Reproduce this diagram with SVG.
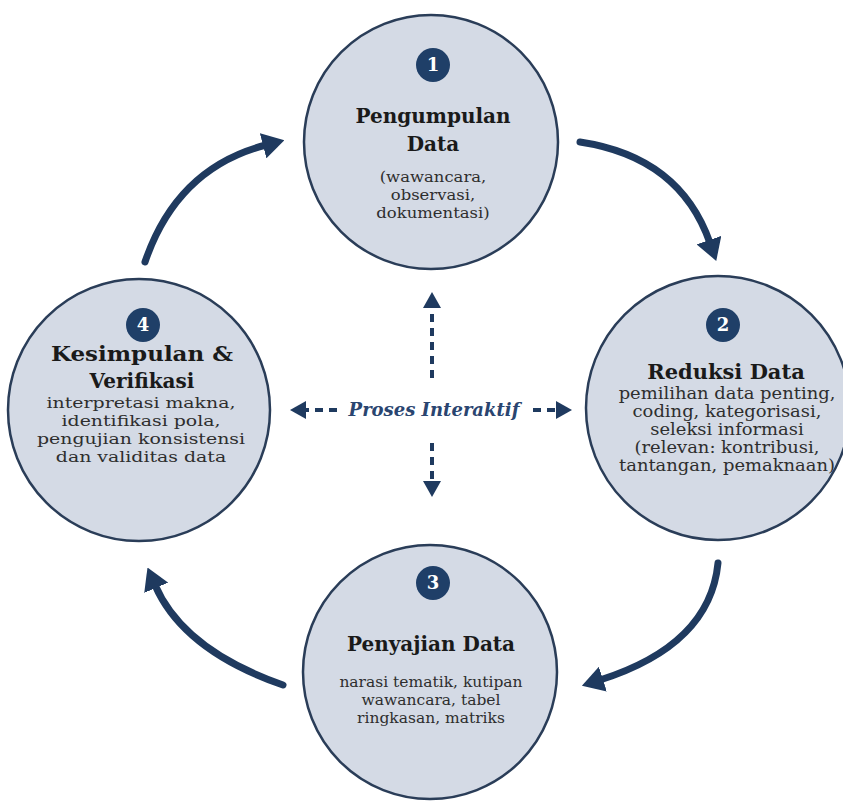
<svg xmlns="http://www.w3.org/2000/svg" width="843" height="808" viewBox="0 0 843 808">
<style>
.node{fill:#d4dae5;stroke:#2a3d58;stroke-width:2.5}
.badge{fill:#1f3f68}
.num{fill:#fff;font-family:"DejaVu Serif",serif;font-weight:bold;font-size:18px;text-anchor:middle}
.title{fill:#1a1a1a;font-family:"DejaVu Serif",serif;font-weight:bold;font-size:20px;text-anchor:middle}
.sub{fill:#2e2e2e;font-family:"DejaVu Serif",serif;font-size:15.5px;text-anchor:middle}
.big{font-size:21px}
.sub2{font-size:16.3px}
.flow{fill:none;stroke:#1f3a5f;stroke-width:7;stroke-linecap:round}
.dash{fill:none;stroke:#1f3a5f;stroke-width:4;stroke-dasharray:8 6}
.label{fill:#2a4570;font-family:"DejaVu Serif",serif;font-weight:bold;font-style:italic;font-size:18px;text-anchor:middle}
</style>
<defs>
<marker id="ah" markerUnits="userSpaceOnUse" viewBox="0 0 22 26" markerWidth="22" markerHeight="26" refX="3" refY="13" orient="auto">
<path d="M0,0 L22,13 L0,26 z" fill="#1f3a5f"/>
</marker>
<marker id="ahs" markerUnits="userSpaceOnUse" viewBox="0 0 16 18" markerWidth="16" markerHeight="18" refX="2" refY="9" orient="auto">
<path d="M0,0 L16,9 L0,18 z" fill="#1f3a5f"/>
</marker>
</defs>
<rect width="843" height="808" fill="#fff"/>
<g id="connectors">
<path class="flow" d="M580,142 Q680,157 710,243" marker-end="url(#ah)"/>
<path class="flow" d="M718,563 Q710,645 600,680" marker-end="url(#ah)"/>
<path class="flow" d="M283,685 Q183,650 155,585" marker-end="url(#ah)"/>
<path class="flow" d="M145,262 Q177,168 266,145" marker-end="url(#ah)"/>
<path class="dash" d="M432,378 L432,306" marker-end="url(#ahs)"/>
<path class="dash" d="M432,443 L432,483" marker-end="url(#ahs)"/>
<path class="dash" d="M337,410 L304,410" marker-end="url(#ahs)"/>
<path class="dash" d="M533,410 L558,410" marker-end="url(#ahs)"/>
<text class="label" x="434" y="416">Proses Interaktif</text>
</g>
<g id="node1">
<circle class="node" cx="431" cy="142" r="127"/>
<circle class="badge" cx="433" cy="65" r="17"/>
<text class="num" x="433" y="71">1</text>
<text class="title" x="433" y="123">Pengumpulan</text>
<text class="title" x="433" y="151">Data</text>
<g transform="matrix(1.06,0,0,1,-26,0)">
<text class="sub" x="433" y="182">(wawancara,</text>
<text class="sub" x="433" y="200">observasi,</text>
<text class="sub" x="433" y="218">dokumentasi)</text>
</g>
</g>
<g id="node2">
<circle class="node" cx="718" cy="408" r="132"/>
<circle class="badge" cx="723" cy="325" r="17"/>
<text class="num" x="723" y="331">2</text>
<text class="title big" x="726" y="379">Reduksi Data</text>
<g transform="matrix(1.1,0,0,1,-72.7,0)">
<text class="sub sub2" x="727" y="399">pemilihan data penting,</text>
<text class="sub sub2" x="727" y="417">coding, kategorisasi,</text>
<text class="sub sub2" x="727" y="435">seleksi informasi</text>
<text class="sub sub2" x="727" y="453">(relevan: kontribusi,</text>
<text class="sub sub2" x="727" y="471">tantangan, pemaknaan)</text>
</g>
</g>
<g id="node3">
<circle class="node" cx="430" cy="672" r="127"/>
<circle class="badge" cx="433" cy="583" r="17"/>
<text class="num" x="433" y="589">3</text>
<text class="title" x="431" y="651">Penyajian Data</text>
<text class="sub" x="431" y="687">narasi tematik, kutipan</text>
<text class="sub" x="431" y="705">wawancara, tabel</text>
<text class="sub" x="431" y="723">ringkasan, matriks</text>
</g>
<g id="node4">
<circle class="node" cx="139" cy="410" r="131"/>
<circle class="badge" cx="143" cy="325" r="17"/>
<text class="num" x="143" y="331">4</text>
<text class="title" x="142" y="361" textLength="182" lengthAdjust="spacingAndGlyphs">Kesimpulan &amp;</text>
<text class="title" x="142" y="388">Verifikasi</text>
<g transform="matrix(1.22,0,0,1,-31,0)">
<text class="sub" x="141" y="408">interpretasi makna,</text>
<text class="sub" x="141" y="426">identifikasi pola,</text>
<text class="sub" x="141" y="444">pengujian konsistensi</text>
<text class="sub" x="141" y="462">dan validitas data</text>
</g>
</g>
</svg>
